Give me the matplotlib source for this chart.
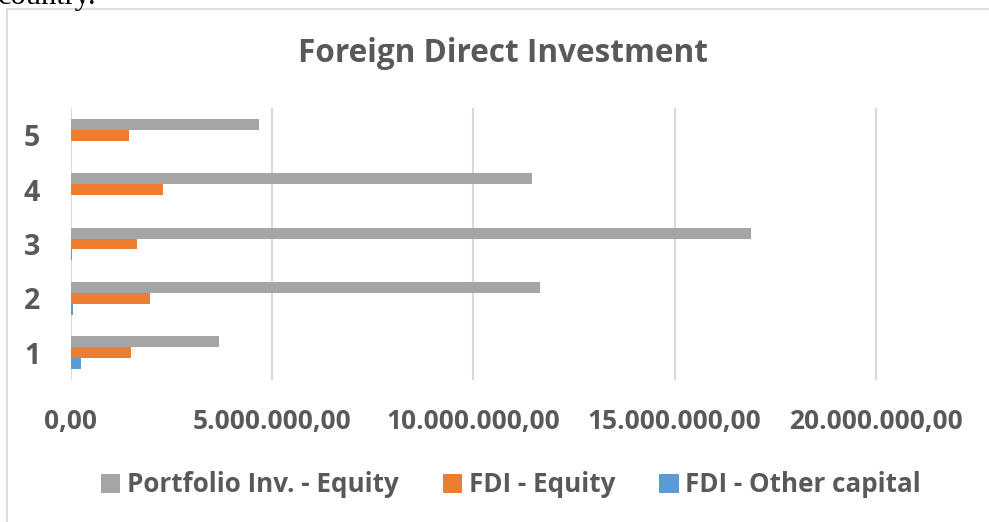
import matplotlib
matplotlib.use('Agg')
from matplotlib import pyplot as plt
from matplotlib.patches import Patch
import numpy as np

# data
categories = [1, 2, 3, 4, 5]
portfolio_equity = [3680000, 11660000, 16890000, 11460000, 4680000]
fdi_equity = [1490000, 1970000, 1640000, 2280000, 1460000]
fdi_other = [250000, 50000, 20000, 0, 0]
x_ticks = [0, 5000000, 10000000, 15000000, 20000000]
x_tick_labels = ['0,00', '5.000.000,00', '10.000.000,00', '15.000.000,00', '20.000.000,00']
series_names = ['Portfolio Inv. - Equity', 'FDI - Equity', 'FDI - Other capital']
colors = ['#a5a5a5', '#ed7d31', '#5b9bd5']

txt = '#595959'
plt.rcParams['font.family'] = ['Open Sans', 'DejaVu Sans']

fig = plt.figure(figsize=(9.89, 5.22), dpi=100)
W, H = 989, 522

# bit of document text cut at the top
fig.text(-2 / W, 1 - 4 / H, 'country.', family='Liberation Serif', fontsize=22,
         color='black', va='baseline', ha='left')

# chart border
fig.add_artist(plt.Line2D([7 / W, 1.0], [1 - 9 / H, 1 - 9 / H], color='#d9d9d9', lw=1.2,
                          transform=fig.transFigure))
fig.add_artist(plt.Line2D([7 / W, 7 / W], [0, 1 - 9 / H], color='#d9d9d9', lw=1.2,
                          transform=fig.transFigure))

ax = fig.add_axes([70.7 / W, 1 - 380 / H, 1 - 70.7 / W, 272 / H])

y = np.array(categories)
h = 0.2
ax.barh(y + h, portfolio_equity, height=h, color=colors[0])
ax.barh(y, fdi_equity, height=h, color=colors[1])
ax.barh(y - h, fdi_other, height=h, color=colors[2])

ax.set_xlim(0, (W - 70.7) / 40.27 * 1e6)
ax.set_ylim(0.5, 5.5)
ax.set_xticks(x_ticks)
ax.set_xticklabels(x_tick_labels)
ax.set_yticks(categories)
ax.set_yticklabels([str(c) for c in categories])
for s in ax.spines.values():
    s.set_visible(False)
ax.tick_params(axis='x', length=0, pad=20, labelsize=19, labelcolor=txt)
ax.tick_params(axis='y', length=0, pad=22, labelsize=20.5, labelcolor=txt)
for lab in ax.get_xticklabels() + ax.get_yticklabels():
    lab.set_fontweight('bold')
ax.grid(axis='x', color='#d9d9d9', lw=1.5)
ax.set_axisbelow(True)

fig.text(503 / W, 1 - 53 / H, 'Foreign Direct Investment', ha='center', va='center',
         fontsize=22.7, fontweight='bold', color=txt)

handles = [Patch(facecolor=c) for c in colors]
leg = fig.legend(handles, series_names, loc='center', bbox_to_anchor=(511 / W, 1 - 485 / H),
                 ncol=3, frameon=False, handlelength=0.75, handleheight=0.75,
                 handletextpad=0.25, columnspacing=1.7,
                 prop={'weight': 'bold', 'size': 18.7})
for t in leg.get_texts():
    t.set_color(txt)

fig.savefig('out.png', dpi=100)
